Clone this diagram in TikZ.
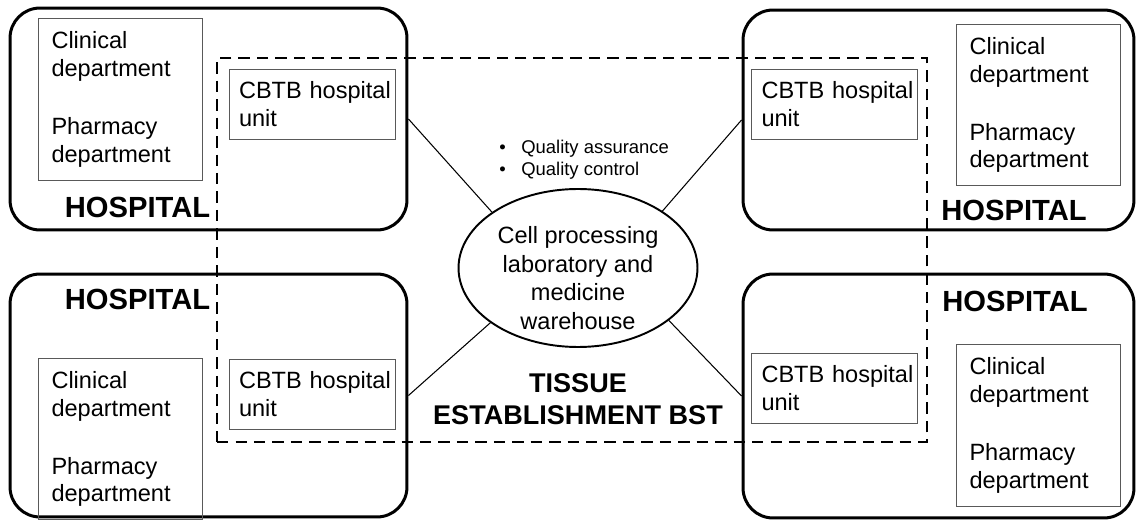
\documentclass[tikz,border=0pt]{standalone}
\usepackage{fontspec}
\setmainfont{Liberation Sans}
\usetikzlibrary{positioning,shapes.geometric}

\begin{document}
\begin{tikzpicture}[x=0.02cm,y=-0.02cm,
  hosp/.style={draw,line width=1.7pt,rounded corners=0.6cm,inner sep=0pt},
  tse/.style={draw,line width=1.1pt,dash pattern=on 6.5pt off 4pt,inner sep=0pt},
  dept/.style={draw=black!65,line width=0.5pt,inner sep=0.26cm,text width=2.76cm,minimum height=3.1cm,align=left,font=\fontsize{13.4}{15.9}\selectfont},
  unitbox/.style={draw=black!65,line width=0.5pt,inner xsep=0.2cm,inner ysep=0.2cm,text width=2.92cm,minimum height=1.4cm,align=left,font=\fontsize{13.4}{15.5}\selectfont},
  lab/.style={ellipse,draw,line width=1.1pt,inner sep=0pt,minimum width=4.78cm,minimum height=3.16cm},
  labtext/.style={inner sep=0pt,align=center,font=\fontsize{13.4}{16.2}\selectfont},
  hlabel/.style={inner sep=0pt,font=\fontsize{16.6}{20}\selectfont\bfseries},
  link/.style={line width=0.6pt}]
\useasboundingbox (0,0) rectangle (1136,520);
% hospitals
\node[hosp,minimum width=7.94cm,minimum height=4.44cm] (hTL) at (208.5,119) {};
\node[hosp,minimum width=7.82cm,minimum height=4.4cm] (hTR) at (938.5,120) {};
\node[hosp,minimum width=7.94cm,minimum height=4.86cm] (hBL) at (208.5,395.5) {};
\node[hosp,minimum width=7.82cm,minimum height=4.88cm] (hBR) at (938.5,396) {};
\node[hlabel] (hlTL) at (137.5,207) {HOSPITAL};
\node[hlabel] (hlTR) at (1014,210) {HOSPITAL};
\node[hlabel] (hlBL) at (137.5,299) {HOSPITAL};
\node[hlabel] (hlBR) at (1015,301) {HOSPITAL};
% tissue establishment
\node[tse,minimum width=14.2cm,minimum height=7.68cm] (bst) at (572,250) {};
% departments
\node[dept] (dTL) at (120.5,99.5) {Clinical\\department\\[0.6cm]Pharmacy\\department};
\node[dept] (dTR) at (1038.5,105) {Clinical\\department\\[0.6cm]Pharmacy\\department};
\node[dept] (dBL) at (120.5,439) {Clinical\\department\\[0.6cm]Pharmacy\\department};
\node[dept] (dBR) at (1038.5,425.5) {Clinical\\department\\[0.6cm]Pharmacy\\department};
% CBTB units
\node[unitbox] (uTL) at (312,104) {\mbox{CBTB hospital}\\unit};
\node[unitbox] (uTR) at (834.5,104) {\mbox{CBTB hospital}\\unit};
\node[unitbox] (uBL) at (312,394) {\mbox{CBTB hospital}\\unit};
\node[unitbox] (uBR) at (834.5,388) {\mbox{CBTB hospital}\\unit};
% centre
\node[lab] (cp) at (578,268) {};
\node[labtext] (cpt) at (578,278) {Cell processing\\laboratory and\\medicine\\warehouse};
\node[anchor=west,inner sep=0pt,align=left,font=\fontsize{10.5}{12.5}\selectfont] (qa) at (499,160) {\textbullet\hspace{0.31cm}Quality assurance\\\textbullet\hspace{0.31cm}Quality control};
\node[align=center,inner sep=0pt,font=\fontsize{15.4}{18.2}\selectfont\bfseries] (tl) at (578,399) {TISSUE\\ESTABLISHMENT BST};
\draw[link] (hTL.east) -- (cp.147);
\draw[link] (hTR.west) -- (cp.34);
\draw[link] (hBL.east) -- (cp.212);
\draw[link] (hBR.west) -- (cp.330);
\end{tikzpicture}
\end{document}
